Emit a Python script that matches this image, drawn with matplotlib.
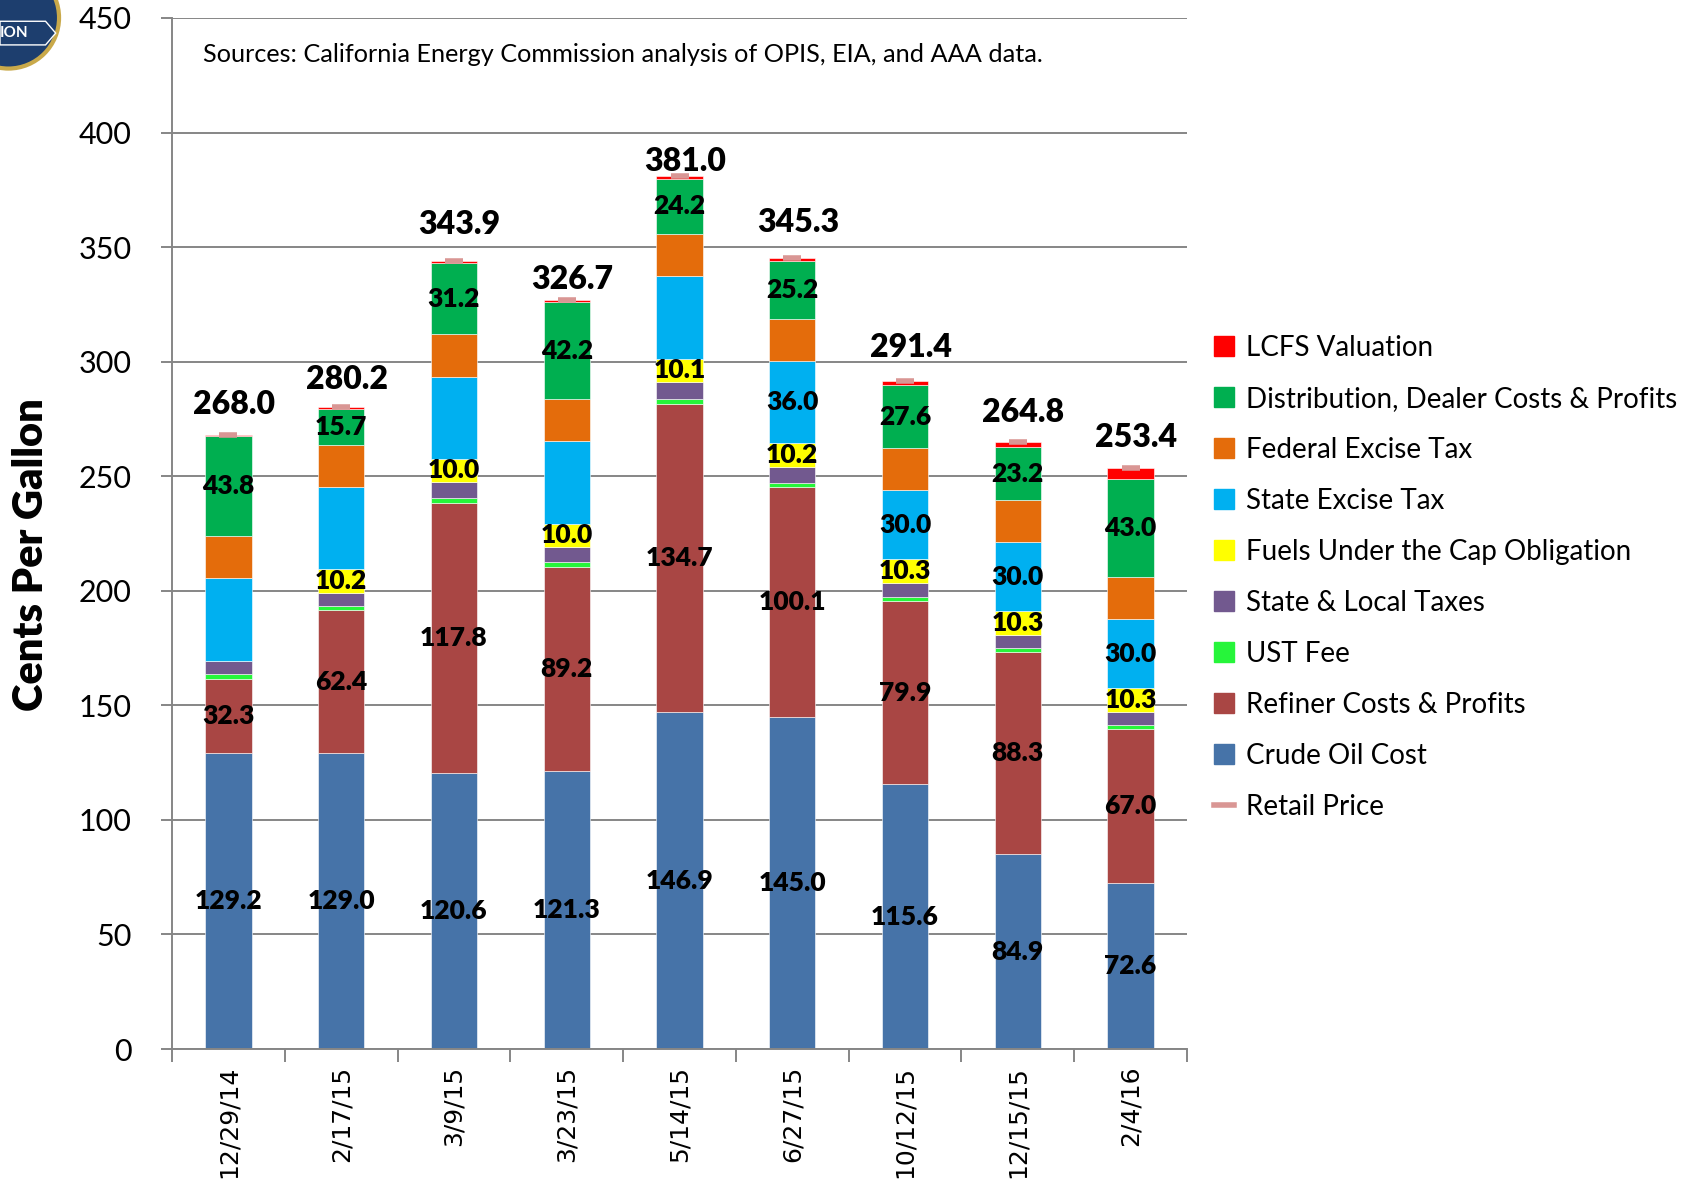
import matplotlib
matplotlib.use('Agg')
import matplotlib.pyplot as plt
from matplotlib.patches import Patch, Ellipse, Polygon
from matplotlib.lines import Line2D
import numpy as np

dates = ["12/29/14", "2/17/15", "3/9/15", "3/23/15", "5/14/15",
         "6/27/15", "10/12/15", "12/15/15", "2/4/16"]

crude = [129.2, 129.0, 120.6, 121.3, 146.9, 145.0, 115.6, 84.9, 72.6]
refiner = [32.3, 62.4, 117.8, 89.2, 134.7, 100.1, 79.9, 88.3, 67.0]
ust_fee = [2.0, 2.0, 2.0, 2.0, 2.0, 2.0, 2.0, 2.0, 2.0]
state_local = [6.0, 5.8, 7.1, 6.8, 7.6, 7.0, 6.0, 5.6, 5.6]
futc = [0.0, 10.2, 10.0, 10.0, 10.1, 10.2, 10.3, 10.3, 10.3]
state_excise = [36.0, 36.0, 36.0, 36.0, 36.0, 36.0, 30.0, 30.0, 30.0]
federal = [18.4, 18.4, 18.4, 18.4, 18.4, 18.4, 18.4, 18.4, 18.4]
distribution = [43.8, 15.7, 31.2, 42.2, 24.2, 25.2, 27.6, 23.2, 43.0]
retail = [268.0, 280.2, 343.9, 326.7, 381.0, 345.3, 291.4, 264.8, 253.4]

# LCFS is whatever is left up to the retail price
base = np.array(crude) + np.array(refiner) + np.array(ust_fee) + np.array(state_local) \
    + np.array(futc) + np.array(state_excise) + np.array(federal) + np.array(distribution)
lcfs = list(np.round(np.array(retail) - base, 1))

show_state_label = [False, False, False, False, False, True, True, True, True]

# the total labels were placed by hand in the original, not all at same height
total_lbl_gap = [13.3, 12.0, 15.9, 9.1, 6.5, 15.5, 14.8, 13.2, 13.4]

plt.rcParams['font.family'] = ['Lato', 'DejaVu Sans']

fig = plt.figure(figsize=(16.87, 11.82), dpi=100)
ax = fig.add_axes([0.102, 0.1125, 0.6016, 0.8723])

series = [
    ("Crude Oil Cost", crude, "#4673A8"),
    ("Refiner Costs & Profits", refiner, "#A94644"),
    ("UST Fee", ust_fee, "#26F53A"),
    ("State & Local Taxes", state_local, "#72598F"),
    ("Fuels Under the Cap Obligation", futc, "#FFFF00"),
    ("State Excise Tax", state_excise, "#00B0F0"),
    ("Federal Excise Tax", federal, "#E46C0B"),
    ("Distribution, Dealer Costs & Profits", distribution, "#00AF50"),
    ("LCFS Valuation", lcfs, "#FF0000"),
]

x = np.arange(len(dates))
w = 0.41
bottom = np.zeros(len(dates))
for name, vals, col in series:
    vals = np.array(vals)
    ax.bar(x, vals, w, bottom=bottom, color=col, edgecolor='white', linewidth=0.4, zorder=2)
    for i, v in enumerate(vals):
        show = False
        if name in ("Crude Oil Cost", "Refiner Costs & Profits", "Distribution, Dealer Costs & Profits"):
            show = True
        elif name == "Fuels Under the Cap Obligation" and v > 0:
            show = True
        elif name == "State Excise Tax" and show_state_label[i]:
            show = True
        if show:
            ax.text(x[i], bottom[i] + v / 2, "%.1f" % v, ha='center', va='center',
                    fontsize=19, fontweight='heavy', color='black', zorder=4)
    bottom += vals

# retail price marker + total labels
ax.plot(x, retail, ls='none', marker='_', ms=13, mew=4, color='#D99694', zorder=3)
for i, t in enumerate(retail):
    ax.text(x[i] + 0.05, t + total_lbl_gap[i], "%.1f" % t, ha='center', va='center',
            fontsize=23, fontweight='heavy', color='black')

ax.set_ylim(0, 450)
ax.set_xlim(-0.5, len(dates) - 0.5)
ax.set_yticks(np.arange(0, 451, 50))
ax.yaxis.grid(True, color='#868686', linewidth=1.4, zorder=0)
ax.set_axisbelow(True)
for s in ['top', 'right']:
    ax.spines[s].set_visible(False)
for s in ['left', 'bottom']:
    ax.spines[s].set_color('#868686')
    ax.spines[s].set_linewidth(1.4)
ax.tick_params(axis='y', colors='#868686', length=8, width=1.4, labelsize=22,
               labelcolor='black', pad=21)
ax.set_xticks(x)
ax.set_xticklabels(dates, rotation=90, fontsize=18, fontfamily='DejaVu Sans', va='top')
ax.tick_params(axis='x', which='major', length=0, pad=12)
ax.set_xticks(np.arange(-0.5, len(dates)), minor=True)
ax.tick_params(axis='x', which='minor', length=9, width=1.4, color='#868686')

ax.set_ylabel("Cents Per Gallon", fontsize=30, fontweight='heavy', labelpad=21)
ax.yaxis.label.set_y(0.48)

ax.text(0.03, 0.965, "Sources: California Energy Commission analysis of OPIS, EIA, and AAA data.",
        transform=ax.transAxes, fontsize=18.2, va='center', ha='left')

handles = [Patch(color=c, label=n) for n, v, c in series[::-1]]
handles.append(Line2D([0], [0], color='#D99694', lw=4, label='Retail Price'))
leg = fig.legend(handles=handles, loc='upper left', bbox_to_anchor=(0.705, 0.738),
                 frameon=False, fontsize=20, handlelength=0.7, handleheight=0.7,
                 handletextpad=0.45, labelspacing=0.9)

# partial agency logo in the top-left corner
fig.patches.append(Ellipse((0.005, 0.985), 0.06, 0.086, transform=fig.transFigure,
                           facecolor='#1D3E6E', edgecolor='#C9A94A', lw=3))
fig.patches.append(Polygon([[0.0, 0.962], [0.027, 0.962], [0.033, 0.972], [0.027, 0.982],
                            [0.0, 0.982]], closed=True, transform=fig.transFigure,
                           facecolor='#1D3E6E', edgecolor='white', lw=1))
fig.text(0.0, 0.972, "ION", color='white', fontsize=11, fontweight='bold', va='center')

fig.savefig("out.png", dpi=100)
